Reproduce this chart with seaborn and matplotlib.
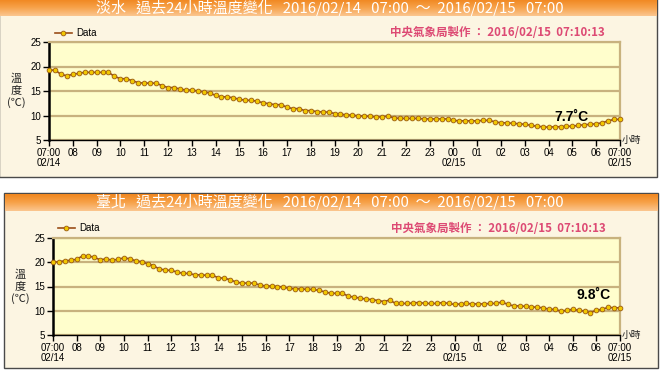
import numpy as np
import pandas as pd
import matplotlib
matplotlib.use("Agg")
import matplotlib.pyplot as plt
import seaborn as sns
from matplotlib.patches import Rectangle
from matplotlib.colors import LinearSegmentedColormap

# ---------------- data ----------------
stations = ["淡水", "臺北"]
period_text = "過去24小時溫度變化   2016/02/14   07:00  ～  2016/02/15   07:00"
credit_text = "中央氣象局製作 ： 2016/02/15  07:10:13"
current_labels = ["7.7˚C", "9.8˚C"]
hour_labels = ["07:00\n02/14", "08", "09", "10", "11", "12", "13", "14", "15", "16",
               "17", "18", "19", "20", "21", "22", "23", "00\n02/15", "01", "02",
               "03", "04", "05", "06", "07:00\n02/15"]

tamsui_temp = [19.2, 19.3, 18.4, 18.1, 18.4, 18.6, 18.8, 18.8, 18.8, 18.8,
               18.8, 18.0, 17.5, 17.5, 17.1, 16.7, 16.6, 16.6, 16.6, 16.1,
               15.7, 15.7, 15.4, 15.2, 15.2, 15.0, 14.8, 14.6, 14.1, 13.8,
               13.8, 13.6, 13.3, 13.1, 13.1, 12.9, 12.6, 12.4, 12.2, 12.2,
               11.7, 11.4, 11.4, 11.0, 11.0, 10.8, 10.7, 10.7, 10.4,
               10.3, 10.1, 10.1, 9.9, 9.9, 9.8, 9.7, 9.7, 9.9, 9.5,
               9.4, 9.4, 9.4, 9.4, 9.3, 9.3, 9.3, 9.3, 9.3, 9.0,
               8.9, 8.9, 8.9, 8.9, 9.0, 9.0, 8.7, 8.5, 8.5, 8.4,
               8.3, 8.2, 8.0, 7.8, 7.7, 7.6, 7.7, 7.7, 7.8, 7.8,
               8.0, 8.1, 8.2, 8.3, 8.5, 8.9, 9.2, 9.2]

taipei_temp = [20.0, 20.1, 20.3, 20.4, 20.6, 21.3, 21.3, 21.0, 20.5, 20.7,
               20.4, 20.6, 20.9, 20.7, 20.3, 20.1, 19.7, 19.3, 18.6, 18.4,
               18.3, 18.0, 17.7, 17.7, 17.4, 17.4, 17.3, 17.3, 16.8, 16.7,
               16.4, 15.9, 15.7, 15.7, 15.7, 15.3, 15.1, 15.1, 15.0, 14.9,
               14.6, 14.5, 14.5, 14.4, 14.4, 14.2, 13.9, 13.6, 13.6,
               13.6, 13.0, 12.8, 12.6, 12.4, 12.3, 12.1, 11.9, 12.2, 11.5,
               11.5, 11.5, 11.6, 11.7, 11.5, 11.5, 11.5, 11.7, 11.5, 11.3,
               11.4, 11.5, 11.4, 11.4, 11.4, 11.5, 11.5, 11.8, 11.3, 11.0,
               11.0, 10.9, 10.8, 10.7, 10.6, 10.3, 10.3, 9.9, 10.1, 10.3,
               10.1, 9.9, 9.6, 10.1, 10.3, 10.7, 10.6, 10.6]

times = pd.date_range("2016-02-14 07:00", "2016-02-15 07:00", freq="15min")
hours = (times - times[0]) / pd.Timedelta(hours=1)

# ---------------- style / layout ----------------
W, H = 662, 371
CJK = ["Noto Sans CJK TC", "DejaVu Sans"]
panel_bg = "#FCF5E2"
plot_bg = "#FFFECC"
grid_c = "#C8B27E"
line_c = "#9A4E18"
credit_c = "#DD4A74"

layouts = [
    dict(box=(-1, -1, 658, 178), bar=(0, -1, 657, 17), title_y=7.5,
         plot=(49, 42, 571, 98), ylab=(16.5, 91), leg=(55, 33), credit=(605, 33),
         annot=(571, 117)),
    dict(box=(4, 193, 654, 175), bar=(5, 194, 653, 17), title_y=202,
         plot=(53, 238, 567, 97), ylab=(20, 287), leg=(58, 228), credit=(606, 228),
         annot=(594, 295)),
]

def frac(x, y, w, h):
    return [x / W, 1 - (y + h) / H, w / W, h / H]

fig = plt.figure(figsize=(W / 100, H / 100), dpi=100)
fig.patch.set_facecolor("white")

bg = fig.add_axes([0, 0, 1, 1])
bg.set_axis_off()
grad_cmap = LinearSegmentedColormap.from_list("bar", ["#F0861E", "#F7A24A", "#FBC690"])
grad = np.linspace(0, 1, 64).reshape(-1, 1)
for L in layouts:
    x, y, w, h = L["box"]
    bg.add_patch(Rectangle((x, y), w, h, facecolor=panel_bg,
                           edgecolor="#4A4A4A", lw=1.0))
    bx, by, bw, bh = L["bar"]
    bg.imshow(grad, extent=(bx, bx + bw, by + bh, by), aspect="auto",
              cmap=grad_cmap, zorder=2)
bg.set_xlim(0, W)
bg.set_ylim(H, 0)

for i, L in enumerate(layouts):
    temps = [tamsui_temp, taipei_temp][i]
    df = pd.DataFrame({"hour": hours, "temp": temps})
    ax = fig.add_axes(frac(*L["plot"]))
    ax.set_facecolor(plot_bg)
    sns.lineplot(data=df, x="hour", y="temp", ax=ax, color=line_c, lw=1.2,
                 marker="o", markersize=3.4, markerfacecolor="#F2C800",
                 markeredgecolor="#9A5A10", markeredgewidth=0.6,
                 label="Data", clip_on=False, zorder=5)
    ax.set_xlim(0, 24)
    ax.set_ylim(5, 25)
    ax.set_xticks(range(0, 25))
    ax.set_xticklabels(hour_labels)
    ax.set_yticks([5, 10, 15, 20, 25])
    ax.set_xlabel("")
    ax.set_ylabel("")
    ax.grid(axis="y", color=grid_c, lw=1.6)
    ax.grid(axis="x", visible=False)
    ax.set_axisbelow(True)
    for s in ["top", "right"]:
        ax.spines[s].set_color(grid_c)
        ax.spines[s].set_linewidth(1.6)
    ax.spines["left"].set_color("black")
    ax.spines["left"].set_linewidth(1.8)
    ax.spines["bottom"].set_color("black")
    ax.spines["bottom"].set_linewidth(1.0)
    ax.tick_params(axis="both", direction="out", length=4, width=1,
                   color="black", labelsize=7, pad=1.5)
    for lab in ax.get_xticklabels() + ax.get_yticklabels():
        lab.set_family(["Liberation Sans", "DejaVu Sans"])
    for lab in ax.get_xticklabels():
        lab.set_linespacing(1.0)
    lx, ly = L["leg"]
    ax.legend(loc="center left", bbox_to_anchor=(lx / W, 1 - ly / H),
              bbox_transform=fig.transFigure, frameon=False,
              prop={"family": ["Liberation Sans", "DejaVu Sans"], "size": 7},
              handlelength=1.7, handletextpad=0.5, borderpad=0, borderaxespad=0)

ov = fig.add_axes([0, 0, 1, 1])
ov.set_axis_off()
ov.patch.set_alpha(0)
ov.set_xlim(0, W)
ov.set_ylim(H, 0)
for i, L in enumerate(layouts):
    title = f"{stations[i]}   {period_text}"
    ov.text(330, L["title_y"], title, ha="center", va="center", color="white",
            fontsize=10.8, family=CJK)
    cx, cy = L["credit"]
    ov.text(cx, cy, credit_text, ha="right", va="center", color=credit_c,
            fontsize=8.3, weight="bold", family=CJK)
    yx, yy = L["ylab"]
    ov.text(yx, yy, "溫\n度\n(℃)", ha="center", va="center", fontsize=8,
            family=CJK, linespacing=1.15, color="#222222")
    px, py, pw, ph = L["plot"]
    ov.text(px + pw + 2, py + ph, "小時", ha="left", va="center", fontsize=7,
            family=CJK, color="#222222")
    ax_, ay_ = L["annot"]
    ov.text(ax_, ay_, current_labels[i], ha="center", va="center", fontsize=10,
            weight="bold", family=["Liberation Sans", "DejaVu Sans"], color="black")

fig.savefig("out.png", dpi=100)
